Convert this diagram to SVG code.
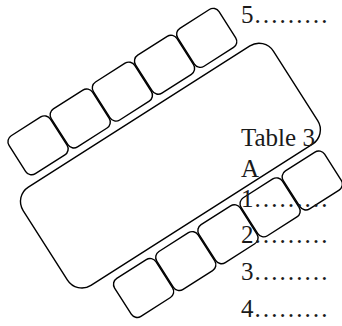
<svg xmlns="http://www.w3.org/2000/svg" width="342" height="326" viewBox="0 0 342 326">
  <style>
    .shape { fill: none; stroke: #000; stroke-width: 1.4; }
    .lbl { font-family: "Liberation Serif", "Times New Roman", serif; font-size: 25px; fill: #1a1a1a; }
  </style>
  <rect width="342" height="326" fill="#fff"/>
  <g id="seating" transform="rotate(-32.5)">
    <g id="table"><rect class="shape" x="-93.6" y="173" width="296.7" height="116.5" rx="17"/></g>
    <g id="chair-top-1"><rect class="shape" x="-70.5" y="120.5" width="49" height="45" rx="7"/></g>
    <g id="chair-top-2"><rect class="shape" x="-20.5" y="120.5" width="49" height="45" rx="7"/></g>
    <g id="chair-top-3"><rect class="shape" x="29.5" y="120.5" width="49" height="45" rx="7"/></g>
    <g id="chair-top-4"><rect class="shape" x="79.5" y="120.5" width="49" height="45" rx="7"/></g>
    <g id="chair-top-5"><rect class="shape" x="129.5" y="120.5" width="49" height="45" rx="7"/></g>
    <g id="chair-bottom-1"><rect class="shape" x="-58.1" y="297.5" width="49" height="45" rx="7"/></g>
    <g id="chair-bottom-2"><rect class="shape" x="-8.1" y="297.5" width="49" height="45" rx="7"/></g>
    <g id="chair-bottom-3"><rect class="shape" x="41.9" y="297.5" width="49" height="45" rx="7"/></g>
    <g id="chair-bottom-4"><rect class="shape" x="91.9" y="297.5" width="49" height="45" rx="7"/></g>
    <g id="chair-bottom-5"><rect class="shape" x="141.9" y="297.5" width="49" height="45" rx="7"/></g>
  </g>
  <g id="connectors"></g>
  <g id="labels">
    <text class="lbl" x="241" y="22.7">5………</text>
    <text class="lbl" x="241" y="146">Table 3</text>
    <text class="lbl" x="241" y="176.7">A</text>
    <text class="lbl" x="241" y="207.3">1………</text>
    <text class="lbl" x="241" y="243.3">2………</text>
    <text class="lbl" x="241" y="280">3………</text>
    <text class="lbl" x="241" y="317">4………</text>
  </g>
</svg>
